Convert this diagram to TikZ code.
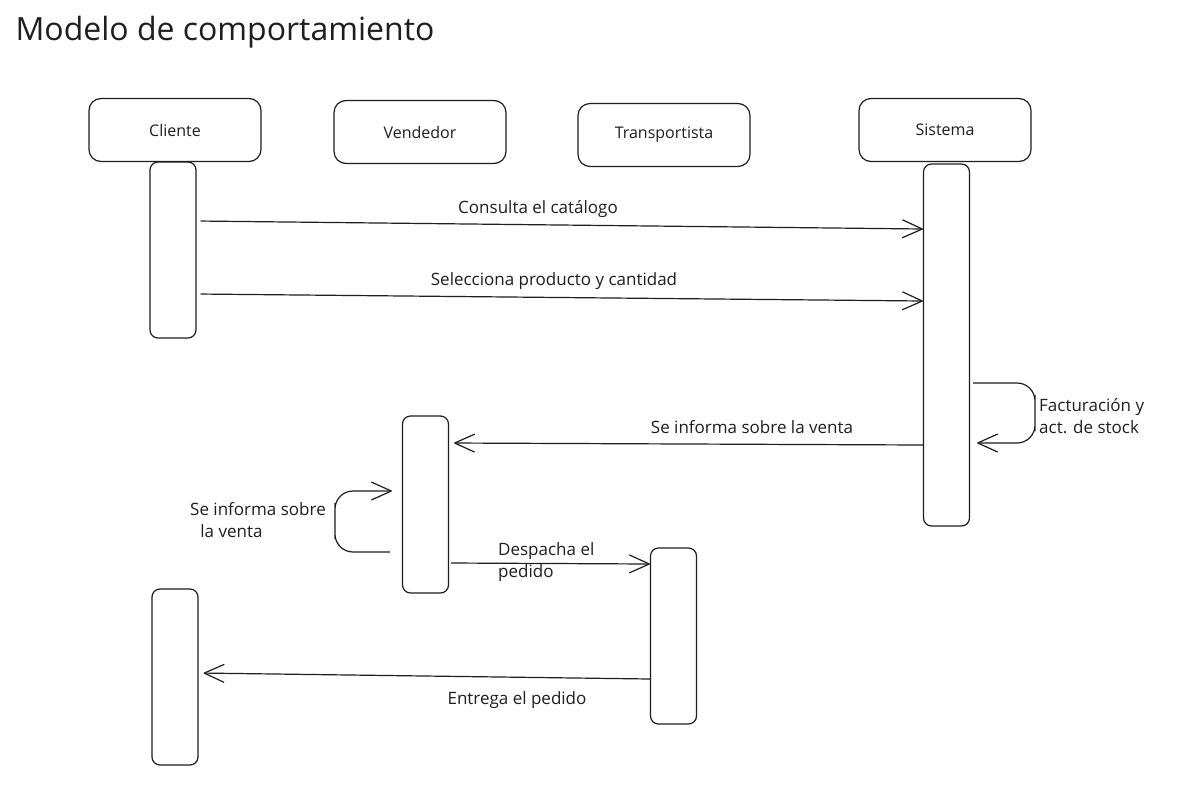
\documentclass[tikz,border=0pt]{standalone}
\usepackage{fontspec}
\setmainfont{Open Sans}
\usetikzlibrary{arrows.meta}
\definecolor{ink}{HTML}{1E1E1E}

\begin{document}
\begin{tikzpicture}[x=1pt,y=-1pt,font=\fontsize{16}{22}\selectfont,text=ink]
  \path[use as bounding box] (0,0) rectangle (1180,798);
  \fill[white] (0,0) rectangle (1180,798);
  \node[anchor=base west,font=\fontsize{32}{38}\selectfont] (title) at (12,40)
    {Modelo de comportamiento};

  \tikzset{actor/.style={draw=ink,line width=1.2pt,rounded corners=12pt,
    minimum width=172pt,minimum height=63pt,inner sep=0pt},
    bar/.style={draw=ink,line width=1.2pt,rounded corners=8pt,
    minimum width=46pt,minimum height=#1,inner sep=0pt},
    msg/.style={-{Straight Barb[length=20pt,width=18pt,line join=round]},
    line width=1.2pt,draw=ink},
    lbl/.style={inner sep=1pt,font=\fontsize{17}{22}\selectfont}}

  \node[actor] (cli) at (175,130) {Cliente};
  \node[actor] (ven) at (420,132) {Vendedor};
  \node[actor] (tra) at (664,135) {Transportista};
  \node[actor] (sis) at (945,130) {Sistema};

  \node[bar=176pt] (cli1) at (173,250) {};
  \node[bar=362pt] (sis1) at (946.5,345) {};
  \node[bar=177pt] (ven1) at (425.5,504.5) {};
  \node[bar=176pt] (tra1) at (673.5,636) {};
  \node[bar=176pt] (cli2) at (175,677) {};

  \draw[msg,shorten <=4pt] (cli1.east |- 0,221) -- (sis1.west |- 0,229);
  \node[lbl] (consulta) at (538,209) {Consulta el catálogo};
  \draw[msg,shorten <=4pt] (cli1.east |- 0,294) -- (sis1.west |- 0,301);
  \node[lbl] (selecciona) at (554,281) {Selecciona producto y cantidad};

  \draw[msg,rounded corners=18pt,shorten <=3pt,shorten >=7pt]
    (sis1.east |- 0,383) -| (1035,413) |- (sis1.east |- 0,443);
  \node[lbl,anchor=west,align=left] (factura) at (1038,416)
    {Facturación y\\act. de stock};

  \draw[msg,shorten >=5pt] (sis1.west |- 0,445) -- (ven1.east |- 0,443);
  \node[lbl] (informa) at (752,427) {Se informa sobre la venta};

  \draw[msg,rounded corners=18pt,shorten <=12pt,shorten >=10pt]
    (ven1.west |- 0,552) -| (335,521) |- (ven1.west |- 0,491);
  \node[lbl,anchor=east,align=left] (aviso) at (327,520)
    {Se informa sobre\\\hspace{0.6em}la venta};

  \draw[msg,shorten <=2pt] (ven1.east |- 0,563) -- (tra1.west |- 0,564);
  \node[lbl,anchor=west,align=left] (despacha) at (497,562)
    {Despacha el\\pedido};

  \draw[msg,shorten >=5pt] (tra1.west |- 0,679) -- (cli2.east |- 0,673);
  \node[lbl] (entrega) at (517,700) {Entrega el pedido};
\end{tikzpicture}
\end{document}
